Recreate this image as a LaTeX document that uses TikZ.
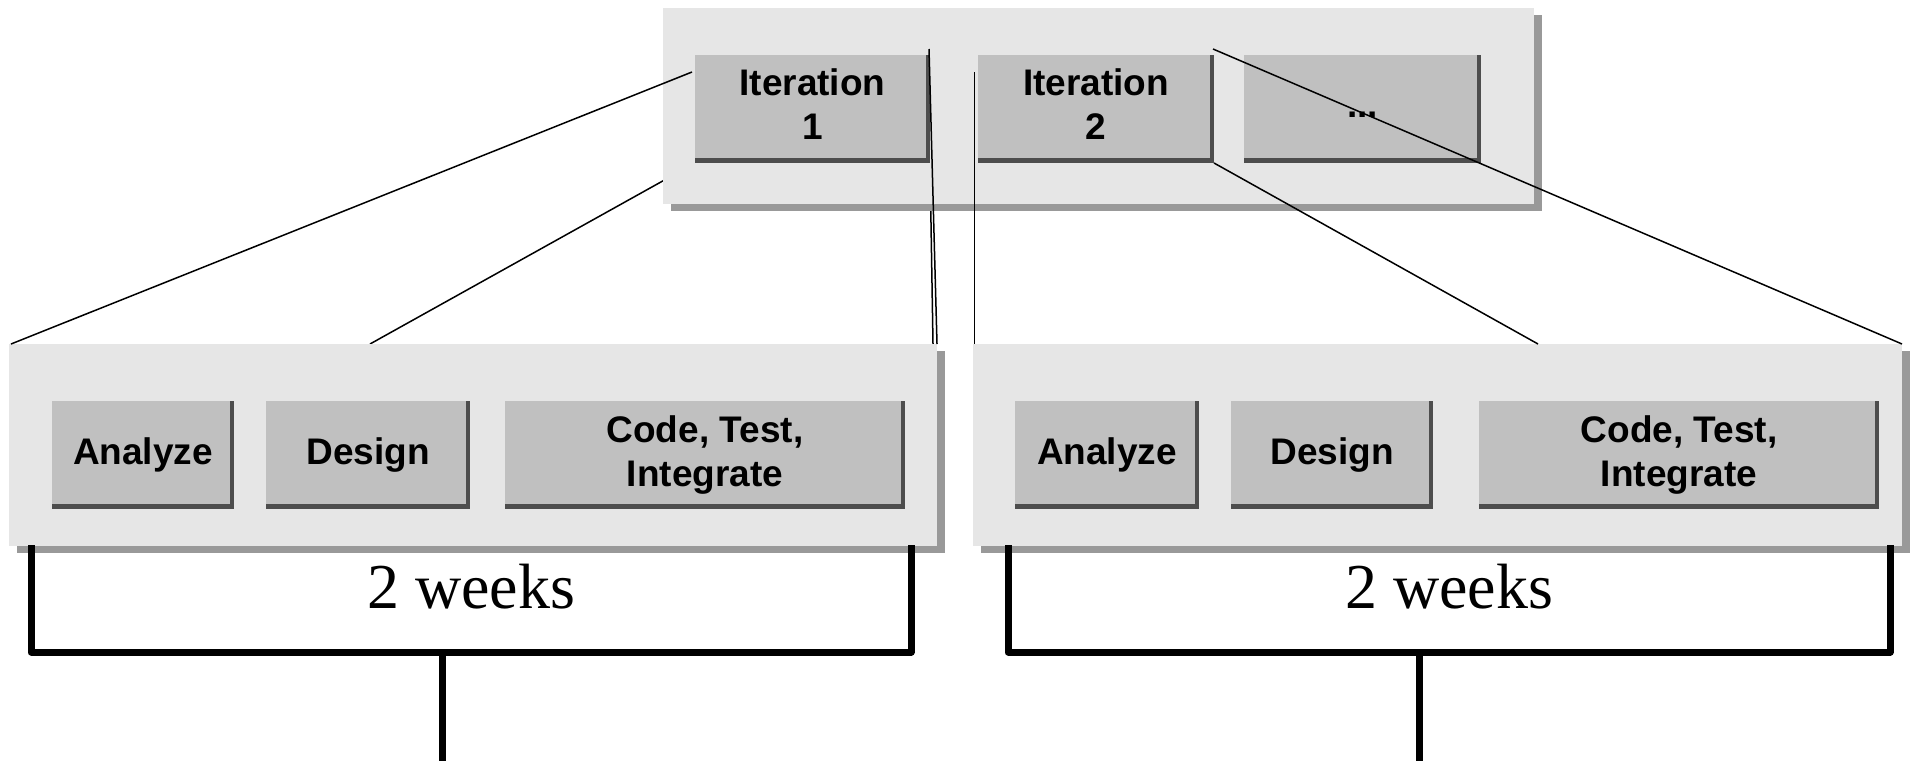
\documentclass[tikz,border=0pt]{standalone}
\usepackage{fontspec}
\setmainfont{Liberation Serif}
\newfontfamily\bxfontfam{Liberation Sans}
\usetikzlibrary{calc,shadows}
\pgfdeclarelayer{bg}
\pgfsetlayers{bg,main}
\definecolor{panelfill}{HTML}{E6E6E6}
\definecolor{panelshadow}{HTML}{999999}
\definecolor{boxfill}{HTML}{C0C0C0}
\definecolor{boxedge}{HTML}{4D4D4D}
\newcommand\bxfont{\bxfontfam\bfseries\fontsize{18.5pt}{21.75pt}\selectfont}
\tikzset{
  panel/.style={fill=panelfill, inner sep=0pt, outer sep=0pt,
    drop shadow={shadow xshift=4pt, shadow yshift=-3.5pt, fill=panelshadow, opacity=1}},
  stepbox/.style={fill=boxedge, inner sep=0pt, outer sep=0pt, minimum height=54pt,
    align=center, font=\bxfont,
    path picture={\fill[boxfill] (path picture bounding box.north west) rectangle ([xshift=-2pt,yshift=2.5pt]path picture bounding box.south east);}},
  itbox/.style={stepbox, text depth=5pt},
  zoomline/.style={draw=black, line width=0.75pt},
  bracket/.style={draw=black, line width=3.5pt, line join=round},
  weeks/.style={anchor=base, inner sep=0pt, font=\fontsize{32pt}{38pt}\selectfont}
}
\begin{document}
\begin{tikzpicture}[x=0.5pt, y=-0.5pt]
\useasboundingbox (0,0) rectangle (1915,761);
% panels
\node[panel, minimum width=435.5pt, minimum height=98pt] (tp) at (1098.5,106) {};
\node[panel, minimum width=464pt, minimum height=101pt] (lp) at (473,445) {};
\node[panel, minimum width=464.5pt, minimum height=101pt] (rp) at (1437.5,445) {};
% top boxes
\node[itbox, minimum width=117.5pt] (it1) at (812.5,109) {Iteration\\1};
\node[itbox, minimum width=118pt] (it2) at (1096,109) {Iteration\\2};
\node[stepbox, minimum width=118.5pt] (itn) at (1362.5,109) {\vphantom{Iy}...};
% left panel boxes
\node[stepbox, minimum width=91pt] (la) at (143,455) {Analyze};
\node[stepbox, minimum width=102pt] (ld) at (368,455) {Design};
\node[stepbox, minimum width=200pt] (lc) at (705,455) {Code, Test,\\Integrate};
% right panel boxes
\node[stepbox, minimum width=92pt] (ra) at (1107,455) {Analyze};
\node[stepbox, minimum width=101pt] (rd) at (1332,455) {Design};
\node[stepbox, minimum width=200pt] (rc) at (1679,455) {Code, Test,\\Integrate};
% hidden zoom lines (behind panels)
\begin{pgfonlayer}{bg}
\draw[zoomline] (it1.south west) -- ($(lp.north west)+(361,0)$);
\draw[zoomline] (it1.south east) -- ($(lp.north east)+(-4,0)$);
\end{pgfonlayer}
% zoom lines on top
\draw[zoomline] ($(it1.north west)+(-3,17)$) -- ($(lp.north west)+(2,0)$);
\draw[zoomline] ($(it1.north east)+(-1,-6)$) -- (lp.north east);
\draw[zoomline] ($(it2.north west)+(-3.5,17)$) -- ($(rp.north west)+(1.5,0)$);
\draw[zoomline] ($(it2.north east)+(-1,-6)$) -- (rp.north east);
\draw[zoomline] (it2.south east) -- ($(rp.north west)+(565,0)$);
% brackets
\coordinate (lb1) at (31,545);
\coordinate (lb2) at (31,652);
\coordinate (lb3) at (911,652);
\coordinate (lb4) at (911,545);
\coordinate (ls1) at (442,652);
\coordinate (ls2) at (442,761);
\coordinate (rb1) at (1008,545);
\coordinate (rb2) at (1008,652);
\coordinate (rb3) at (1890,652);
\coordinate (rb4) at (1890,545);
\coordinate (rs1) at (1419,652);
\coordinate (rs2) at (1419,761);
\draw[bracket] (lb1) -- (lb2) -- (lb3) -- (lb4);
\draw[bracket] (ls1) -- (ls2);
\draw[bracket] (rb1) -- (rb2) -- (rb3) -- (rb4);
\draw[bracket] (rs1) -- (rs2);
\node[weeks] (w1) at (471,608) {2 weeks};
\node[weeks] (w2) at (1449,608) {2 weeks};
\end{tikzpicture}
\end{document}
